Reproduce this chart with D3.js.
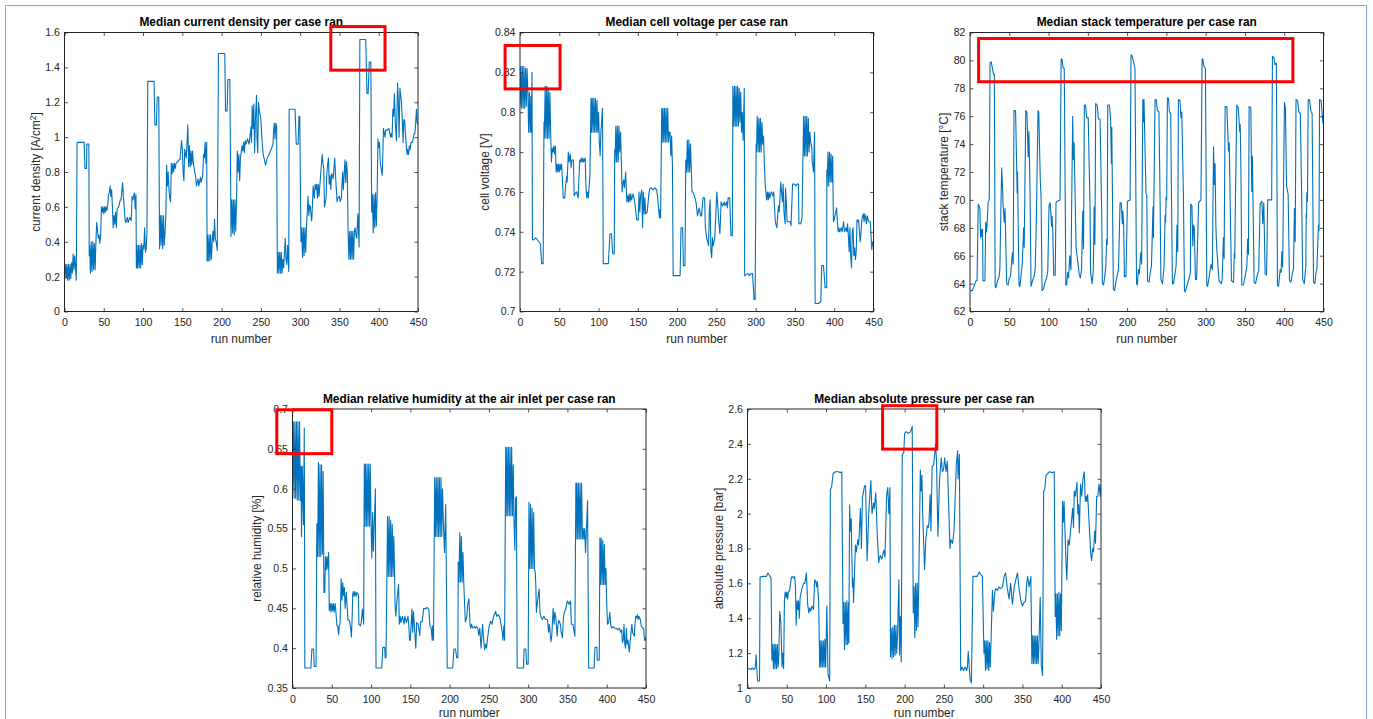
<!DOCTYPE html>
<html>
<head>
<meta charset="utf-8">
<script src="https://cdnjs.cloudflare.com/ajax/libs/d3/7.8.5/d3.min.js"></script>
<style>
  body { margin: 0; background: #fff; }
  svg { display: block; font-family: "Liberation Sans", Arial, Helvetica, sans-serif; }
</style>
</head>
<body>
<svg id="fig" width="1373" height="719"></svg>
<script>
// run number ticks shared by every panel
var runTicks = [0, 50, 100, 150, 200, 250, 300, 350, 400, 450];

// [run number, median value]
var currentDensity = [[0,0.2],[1,0.27],[2,0.19],[3,0.27],[4,0.18],[5,0.27],[6,0.18],[7,0.27],[8,0.19],[9,0.28],[10,0.22],[11,0.33],[12,0.24],[13,0.32],[14,0.25],[15,0.18],[16,0.97],[25,0.97],[26,0.82],[28,0.82],[28.5,0.96],[31,0.96],[31.5,0.32],[32,0.38],[33,0.22],[34,0.4],[35,0.23],[36,0.4],[37,0.24],[38,0.39],[39,0.24],[40,0.4],[41,0.51],[42,0.47],[43,0.42],[44,0.44],[45,0.39],[46,0.43],[47,0.6],[48,0.57],[49,0.6],[50,0.56],[51,0.6],[52,0.57],[53,0.6],[54,0.58],[55,0.61],[56,0.67],[57,0.68],[58,0.72],[59,0.66],[60,0.7],[61,0.6],[62,0.48],[63,0.55],[64,0.5],[65,0.57],[66,0.48],[67,0.59],[69,0.6],[71,0.64],[72,0.64],[74,0.74],[75,0.65],[76,0.6],[77,0.53],[78,0.51],[80,0.54],[81,0.51],[83,0.54],[85,0.52],[86,0.66],[87,0.64],[89,0.68],[90,0.59],[91,0.67],[91.5,0.25],[92,0.38],[93,0.25],[94,0.38],[95,0.25],[96,0.38],[97,0.25],[98,0.39],[99,0.27],[100,0.38],[101,0.36],[102,0.48],[103,0.34],[104,0.36],[105,0.46],[106,1.32],[114,1.32],[115,1.07],[117,1.07],[118,1.23],[120,1.23],[121,0.36],[122,0.55],[123,0.38],[124,0.55],[125,0.36],[126,0.55],[127,0.38],[128,0.45],[129,0.55],[130,0.84],[131,0.72],[132,0.8],[133,0.7],[134,0.65],[135,0.63],[136,0.85],[137,0.79],[138,0.85],[139,0.8],[140,0.85],[141,0.82],[142,0.85],[144,0.86],[146,0.87],[147,0.87],[149,0.98],[150,0.93],[151,0.8],[152,0.75],[153,0.93],[155,0.88],[157,1.07],[158,0.83],[159,0.95],[160,0.83],[161,0.92],[162,0.84],[163,0.92],[164,0.85],[167,0.77],[168,0.72],[170,0.76],[171,0.72],[173,0.77],[174,0.74],[176,0.78],[177,0.9],[178,0.88],[179,0.97],[180,0.85],[181,0.97],[181.5,0.29],[182,0.44],[183,0.29],[184,0.44],[185,0.29],[186,0.44],[187,0.3],[188,0.4],[189,0.46],[190,0.4],[191,0.53],[192,0.42],[193,0.4],[194.5,0.35],[196,1.48],[204,1.48],[205,1.15],[207,1.15],[208,1.33],[210.5,1.33],[212,0.43],[213,0.64],[214,0.45],[215,0.64],[216,0.44],[217,0.64],[218,0.46],[219,0.64],[220,0.92],[221,0.8],[222,0.9],[223,0.75],[224,0.88],[226,0.95],[227,0.92],[228,0.97],[229,0.91],[230,0.98],[231,0.96],[233,0.99],[235,0.96],[237.5,1.06],[238,0.97],[239,1.18],[240,1.05],[241,1.19],[242,0.91],[243,1.1],[244.5,1.24],[245,1.0],[246,0.91],[247,1.2],[248,1.15],[249,1.13],[250,1.1],[251.5,0.98],[253,0.9],[254.5,0.87],[256,0.84],[258,0.88],[260.5,0.9],[263,0.93],[265.5,0.96],[266,1.02],[267,1.08],[268,0.99],[269,1.08],[270,1.06],[271,0.22],[272,0.34],[273,0.22],[274,0.34],[275,0.22],[276,0.34],[277,0.22],[278,0.3],[279,0.25],[281,0.42],[282,0.3],[283,0.27],[284,0.38],[285.5,0.23],[286,1.16],[293.5,1.16],[295,0.96],[297.5,0.96],[298.5,1.12],[299.5,1.12],[301,0.4],[302,0.48],[303,0.31],[304,0.48],[305,0.32],[306,0.48],[307,0.34],[308,0.48],[310,0.66],[311,0.55],[312,0.61],[313,0.6],[314.5,0.52],[315,0.54],[316.5,0.72],[318,0.65],[319,0.73],[320,0.7],[321,0.73],[322,0.65],[323,0.73],[324,0.66],[326,0.78],[328,0.9],[329,0.85],[330,0.82],[331,0.6],[333,0.65],[334,0.8],[336,0.88],[337,0.73],[338,0.78],[339,0.7],[340,0.79],[341,0.78],[342,0.76],[344,0.88],[345,0.78],[347,0.63],[348,0.65],[350,0.66],[351,0.63],[352.5,0.65],[354,0.8],[355,0.7],[357,0.87],[358,0.74],[359,0.86],[360,0.8],[361,0.46],[362,0.3],[363,0.46],[364,0.3],[365,0.46],[366,0.3],[367,0.46],[368,0.3],[369,0.46],[370,0.48],[371,0.44],[372,0.42],[373.5,0.56],[375,0.37],[376,1.56],[383.5,1.56],[385,1.25],[386.5,1.25],[388,1.43],[390,1.43],[391,0.57],[392,0.67],[393,0.45],[394,0.67],[395,0.48],[396,0.68],[397,0.49],[398,0.67],[399,0.99],[400,0.94],[401,0.97],[402,0.85],[403,0.82],[404.5,0.78],[406,1.05],[408,1.0],[409,1.04],[411,1.04],[413,1.05],[415,1.0],[416,1.02],[417,1.0],[418,1.16],[419,1.12],[420,1.25],[421,1.1],[422.5,0.98],[424,1.31],[425,1.2],[426,1.0],[427,1.28],[428,1.24],[429,1.2],[430,1.1],[431,0.97],[432,1.1],[433,1.1],[434,1.02],[436,0.9],[437,0.93],[438,0.9],[439,0.95],[440,0.93],[441,0.97],[443,0.97],[445,1.02],[446,1.02],[447,1.08],[448,1.16],[449,1.08],[450,1.07]];

var cellVoltage = [[0,0.803],[1,0.823],[2,0.802],[3,0.823],[4,0.802],[5,0.823],[6,0.802],[7,0.822],[8,0.803],[9,0.822],[10,0.81],[11,0.79],[12,0.81],[13,0.79],[14,0.808],[14.5,0.79],[15.3,0.82],[15.8,0.736],[18,0.736],[20,0.737],[22,0.736],[24,0.735],[26,0.734],[27.5,0.724],[29.5,0.724],[30.5,0.795],[31,0.787],[32,0.813],[33,0.787],[34,0.813],[35,0.787],[36,0.812],[37,0.787],[38,0.81],[39,0.79],[40,0.775],[41,0.782],[42,0.78],[43,0.783],[44,0.779],[45,0.783],[46,0.77],[47,0.774],[48,0.77],[49,0.774],[50,0.77],[51,0.774],[52,0.771],[53,0.774],[55,0.757],[57,0.757],[58,0.763],[59.5,0.768],[60,0.765],[61.5,0.78],[62.5,0.775],[64,0.779],[65,0.772],[66,0.776],[68,0.776],[69,0.758],[70,0.759],[72,0.76],[74,0.757],[76,0.776],[77,0.775],[78,0.777],[79,0.775],[80,0.777],[81,0.775],[83,0.777],[84,0.762],[85,0.757],[86,0.76],[87,0.757],[89,0.768],[90.4,0.807],[91,0.79],[92,0.807],[93,0.79],[94,0.807],[95,0.79],[96,0.807],[97,0.79],[98,0.806],[99,0.79],[100,0.8],[101,0.785],[102,0.778],[103,0.79],[105,0.802],[106,0.724],[112.5,0.724],[114.5,0.739],[116.5,0.739],[118,0.729],[120,0.729],[120.5,0.781],[121,0.775],[122,0.793],[123,0.775],[124,0.793],[125,0.775],[126,0.793],[127,0.78],[128,0.79],[129,0.775],[130,0.76],[131,0.764],[132,0.766],[133,0.762],[134.5,0.77],[136,0.755],[137,0.758],[138,0.755],[139,0.759],[140,0.755],[141,0.759],[142,0.756],[144,0.759],[146,0.755],[148.5,0.746],[150.5,0.746],[151.5,0.76],[152.5,0.75],[153.5,0.758],[155,0.761],[156,0.742],[157,0.76],[158,0.749],[159,0.757],[160,0.749],[162,0.75],[164,0.759],[165.5,0.762],[167,0.762],[169,0.761],[172,0.762],[174,0.761],[175,0.758],[177.5,0.747],[178,0.751],[179,0.747],[180.4,0.802],[181,0.785],[182,0.802],[183,0.785],[184,0.802],[185,0.785],[186,0.802],[187,0.785],[188,0.802],[189,0.785],[190,0.79],[191,0.79],[192,0.778],[193,0.788],[194,0.774],[195,0.718],[200,0.718],[203.8,0.718],[205,0.742],[207,0.742],[208,0.723],[210,0.723],[211,0.776],[212,0.77],[213,0.786],[214,0.77],[215,0.786],[216,0.77],[217,0.784],[218,0.772],[219,0.76],[220,0.76],[222,0.758],[224,0.755],[226,0.748],[228,0.752],[230,0.748],[231,0.748],[233,0.757],[235,0.757],[236,0.742],[237.5,0.737],[239,0.735],[240,0.733],[241,0.75],[242,0.756],[243,0.73],[244,0.727],[245,0.737],[246,0.733],[248,0.737],[250.5,0.76],[252,0.752],[253,0.745],[254.5,0.739],[256,0.755],[258,0.753],[260,0.755],[261,0.753],[263,0.755],[264,0.752],[265,0.757],[267,0.757],[268.5,0.738],[270.3,0.738],[271,0.813],[272,0.793],[273,0.813],[274,0.793],[275,0.813],[276,0.793],[277,0.813],[278,0.793],[279,0.812],[280,0.795],[281,0.81],[282,0.79],[283,0.8],[284,0.786],[285.5,0.812],[286,0.718],[290,0.719],[292,0.718],[294,0.719],[296,0.719],[298,0.706],[299.3,0.706],[300.6,0.784],[301,0.78],[302,0.798],[303,0.78],[304,0.797],[305,0.78],[306,0.797],[307,0.78],[308,0.795],[309,0.784],[310,0.788],[311,0.775],[312,0.765],[313,0.76],[314,0.756],[315,0.76],[316,0.756],[317,0.76],[318,0.757],[320,0.76],[322,0.758],[323,0.76],[325,0.745],[327,0.742],[328,0.748],[329,0.753],[330,0.75],[332,0.765],[333,0.76],[334,0.755],[335,0.764],[336,0.75],[337.5,0.744],[338,0.762],[339,0.755],[340,0.745],[342,0.745],[344,0.745],[345,0.743],[347,0.764],[349,0.764],[351,0.763],[353,0.764],[354.5,0.764],[355,0.744],[357.5,0.744],[359,0.747],[361,0.798],[362,0.778],[363,0.798],[364,0.778],[365,0.798],[366,0.778],[367,0.797],[368,0.78],[369,0.79],[370,0.785],[371.5,0.782],[372,0.775],[373.6,0.77],[375,0.79],[375.7,0.704],[380,0.704],[383,0.705],[384,0.723],[386.3,0.723],[388.4,0.712],[390.4,0.712],[390.6,0.771],[391,0.763],[392,0.78],[393,0.763],[394,0.78],[395,0.765],[396,0.779],[397,0.765],[398,0.778],[399,0.745],[400,0.746],[401,0.748],[403,0.752],[404,0.745],[405,0.74],[406,0.742],[407,0.74],[409,0.742],[410,0.74],[412,0.745],[413,0.74],[415,0.742],[416,0.74],[417,0.744],[418,0.738],[419,0.73],[420,0.742],[421,0.728],[422,0.722],[423,0.74],[424,0.742],[425,0.728],[426,0.732],[427,0.726],[428,0.73],[429,0.746],[430,0.745],[431,0.746],[433,0.735],[434,0.739],[435,0.745],[436,0.748],[437,0.749],[438,0.745],[439,0.749],[440,0.747],[441,0.744],[442,0.748],[444,0.745],[446,0.745],[447.8,0.731],[448.5,0.735],[449,0.733],[450,0.735]];

var stackTemp = [[0,63.5],[3,63.5],[5,63.8],[7.5,64.2],[9,64.2],[10.5,69.7],[12.5,69.4],[13.5,67.3],[14.5,67.9],[15,67.4],[16,67.9],[16.5,64.2],[19,64.2],[20,68.4],[21,67.7],[22,68.5],[23,69.8],[24.5,70.0],[25.5,79.8],[27,79.9],[29,79.3],[30,79.0],[31,79.0],[32,63.8],[33,63.7],[35,64.2],[37,64.5],[38,65.0],[40.3,72.3],[41.6,70.7],[42,69.8],[43.5,68.4],[44.6,69.4],[46.7,64.0],[48.5,63.9],[50,64.4],[51.5,64.5],[54,66.2],[55,65.4],[56,76.4],[58,76.4],[59.5,72.1],[60,70.5],[60.5,72.0],[62.4,63.9],[63.5,63.8],[65.4,64.8],[66.5,65.4],[68.3,68.0],[69,66.6],[71,76.4],[72.5,76.3],[74,73.1],[75,74.9],[76.4,70.7],[77.7,63.8],[80,64.3],[81.5,64.5],[83,65.0],[84.5,68.7],[86.6,76.4],[87.5,76.3],[89.5,71.4],[90.5,70.2],[91.7,63.5],[93.5,63.6],[95.5,64.1],[97.5,64.4],[99,64.9],[100.6,69.6],[102,69.8],[104,68.1],[104.5,68.8],[105.5,67.6],[106.6,64.6],[108.5,64.6],[109.5,69.8],[111,69.9],[114.6,70.0],[116,80.1],[117,80.1],[118.4,79.5],[120,79.4],[122,63.9],[123,63.9],[124.4,64.8],[125.5,64.4],[127,66.0],[128.5,65.0],[130.7,76.0],[131.6,72.9],[132.5,74.1],[133.5,71.1],[135,66.6],[139,64.7],[140.5,64.4],[142,65.0],[143.5,69.2],[144.5,66.5],[145.6,76.8],[147,76.8],[148.6,75.9],[150.5,75.9],[152.8,69.5],[153.5,64.8],[155.5,64.0],[157,65.0],[158,69.5],[159,66.8],[160,76.9],[162,76.8],[163.4,75.8],[165.5,75.8],[167.7,69.0],[168.5,64.0],[170,63.9],[171.5,64.5],[172.8,65.2],[174,67.2],[174.7,66.8],[175.3,76.8],[177.5,76.8],[179,75.7],[180,72.6],[180.5,75.2],[182.5,63.6],[184,63.5],[186,64.2],[187.5,64.6],[189,65.0],[191,69.8],[192.5,69.8],[194,68.3],[194.5,69.2],[195.5,68.4],[196.6,64.5],[198.5,64.5],[200.4,69.9],[203.8,70.0],[205,80.4],[206.5,80.3],[209,79.7],[210,79.4],[212,64.0],[213,63.9],[214.4,65.0],[215.5,64.7],[217.4,66.2],[218.5,65.4],[220,77.2],[221,75.6],[221.5,77.2],[224,70.5],[225,70.3],[226,64.2],[228,64.1],[229,64.6],[231,65.3],[233,69.5],[233.5,67.3],[235.6,77.2],[237,77.2],[238.6,76.4],[240.5,76.3],[242,69.9],[243,64.3],[245,64.0],[246,64.6],[247,65.2],[248.4,68.9],[249,68.4],[249.6,70.2],[250.4,70.0],[251.3,77.3],[252.6,77.3],[253.9,76.3],[255.5,76.2],[256.5,70.1],[257.7,64.0],[259,64.0],[261,64.7],[262.4,65.3],[263.5,68.2],[264.5,66.3],[265.3,77.2],[267.4,77.1],[268.5,75.9],[269.6,76.3],[271.7,70.3],[273,63.5],[274,63.4],[276,63.8],[277.5,64.1],[279,64.4],[280.5,64.8],[281,69.7],[282.5,69.6],[283.6,66.7],[284.5,68.2],[285.5,68.0],[287,64.3],[288.5,64.3],[291,69.8],[294,70.0],[295.5,80.1],[296.5,80.1],[297.6,79.6],[299.7,79.4],[301.4,63.9],[302.5,63.8],[305,64.7],[307,65.4],[308.5,65.0],[310,73.8],[311,71.1],[312,72.6],[313,68.1],[314,66.6],[317,64.2],[320,64.0],[321,64.3],[322.6,67.3],[323.5,65.8],[324.8,76.7],[327,76.7],[329,73.5],[330,74.1],[332,67.2],[332.8,64.2],[335.5,64.1],[336.5,66.2],[337,65.8],[337.5,68.3],[339.6,76.8],[341.5,76.6],[343.4,74.9],[344,75.4],[345,71.6],[346,63.9],[348,63.9],[349.5,64.3],[352.4,65.2],[353.5,67.2],[354.5,66.1],[355.3,76.7],[357.5,76.6],[358.7,70.6],[359.5,73.1],[361.7,64.1],[363.5,64.0],[366,64.7],[367.5,64.9],[369.3,69.7],[371.5,69.9],[372.7,68.3],[374,69.8],[375.7,64.7],[377.5,64.6],[379,70.0],[384,70.0],[385,80.3],[387,80.2],[388,79.7],[390,79.8],[391.4,63.9],[392.8,63.8],[394.8,65.0],[396,64.8],[397,66.3],[398,65.2],[400.3,77.0],[401.5,76.6],[403,71.0],[405,70.4],[406.7,64.2],[408.5,64.1],[411,64.9],[411.8,65.1],[413,69.4],[414,67.0],[415,77.2],[417,77.1],[418.6,76.3],[420.5,76.2],[422.4,69.5],[423.5,64.3],[425.5,64.0],[426.5,64.6],[427.5,65.3],[428,69.0],[428.4,68.7],[428.8,70.5],[429.6,69.9],[430.5,77.2],[432,77.2],[433.9,76.4],[435.5,76.2],[436.5,69.9],[437.3,64.1],[439,64.0],[440.5,64.8],[441.5,65.0],[443.6,68.2],[444.3,67.8],[445,77.2],[447,77.1],[449.2,75.5],[450,76.1]];

var relHumidity = [[0,0.588],[1,0.684],[2,0.588],[3,0.684],[4,0.588],[5,0.684],[6,0.586],[7,0.684],[8,0.586],[9,0.684],[10,0.585],[11,0.628],[11.5,0.54],[12.5,0.628],[14,0.555],[15,0.676],[15.7,0.375],[20,0.375],[23.4,0.375],[24.7,0.399],[26.8,0.399],[27.6,0.377],[30,0.377],[31,0.556],[32,0.515],[33,0.633],[34,0.515],[35,0.63],[36,0.515],[37,0.63],[38,0.518],[39,0.622],[40,0.47],[41,0.47],[42,0.515],[43,0.498],[44,0.515],[45,0.5],[46,0.52],[46.8,0.447],[48,0.456],[49,0.445],[50,0.456],[51,0.447],[52,0.456],[53,0.445],[54.4,0.456],[56.6,0.428],[57.5,0.428],[58.7,0.417],[59.5,0.428],[60.5,0.43],[62,0.487],[63,0.46],[64,0.482],[65,0.466],[66,0.476],[67,0.45],[68.5,0.47],[70.6,0.435],[72.5,0.435],[74,0.425],[75,0.414],[76,0.44],[76.6,0.467],[77.5,0.471],[78.5,0.465],[79.5,0.471],[81,0.465],[82,0.47],[84,0.467],[84.5,0.43],[86.5,0.428],[87.5,0.432],[89,0.449],[90.6,0.43],[91.4,0.631],[92,0.553],[93,0.631],[94,0.553],[95,0.631],[96,0.553],[97,0.631],[98,0.553],[99,0.631],[100,0.555],[101,0.513],[102,0.57],[103,0.522],[105.5,0.6],[106.3,0.375],[110,0.375],[113.6,0.375],[115,0.401],[117.4,0.401],[118,0.388],[119,0.388],[121,0.565],[122,0.49],[123,0.565],[124,0.49],[125,0.56],[126,0.49],[127,0.555],[128,0.49],[129,0.54],[130,0.49],[130.6,0.455],[131.5,0.44],[133,0.46],[135,0.48],[136,0.43],[137,0.44],[138,0.432],[140,0.44],[142,0.43],[143,0.44],[145,0.432],[147,0.44],[148,0.43],[149,0.41],[150,0.41],[152,0.449],[153,0.42],[154,0.446],[155,0.43],[157,0.40],[158,0.432],[160,0.43],[162,0.416],[163,0.433],[165,0.433],[167,0.45],[169,0.449],[171,0.451],[173.5,0.449],[175,0.427],[176.5,0.426],[177.8,0.41],[178.5,0.428],[179.5,0.41],[181,0.614],[182,0.54],[183,0.614],[184,0.54],[185,0.614],[186,0.54],[187,0.614],[188,0.54],[189,0.614],[190,0.54],[191,0.6],[192,0.56],[193.5,0.52],[195,0.58],[197,0.375],[204,0.375],[205.4,0.399],[207.5,0.399],[209,0.388],[210.5,0.388],[211,0.508],[212,0.483],[213,0.545],[214,0.483],[215,0.54],[216,0.483],[217,0.52],[218,0.483],[219,0.457],[220,0.433],[221,0.436],[222,0.44],[223,0.455],[224.6,0.462],[226,0.43],[226.7,0.425],[228,0.43],[229,0.425],[231,0.427],[233,0.425],[234,0.427],[236,0.425],[237,0.416],[238.5,0.425],[240,0.4],[240.7,0.41],[242,0.43],[243,0.415],[244.6,0.398],[246,0.405],[247,0.4],[248,0.41],[250,0.425],[252,0.434],[254,0.43],[256,0.44],[258.6,0.446],[260,0.44],[262,0.442],[264,0.438],[267,0.42],[268,0.41],[269,0.428],[270,0.41],[271.4,0.652],[272,0.566],[273,0.652],[274,0.566],[275,0.652],[276,0.566],[277,0.652],[278,0.566],[279,0.652],[280,0.566],[281,0.63],[282,0.56],[283,0.523],[284,0.588],[285,0.59],[286,0.375],[290,0.375],[294,0.375],[294.8,0.399],[297,0.399],[298,0.38],[300,0.38],[301,0.583],[302,0.5],[303,0.58],[304,0.5],[305,0.575],[306,0.5],[307,0.57],[308,0.5],[309,0.495],[309.7,0.48],[310.5,0.445],[312,0.46],[314,0.474],[315,0.445],[316,0.44],[318,0.436],[320,0.44],[322,0.436],[324.6,0.436],[326,0.42],[327,0.43],[329,0.408],[330,0.415],[331.8,0.45],[333,0.43],[334,0.445],[335,0.44],[337,0.415],[338,0.43],[339,0.435],[341,0.43],[342,0.42],[343.7,0.413],[345,0.44],[346.5,0.446],[348,0.45],[350,0.459],[352,0.455],[354,0.459],[355,0.43],[357,0.43],[358.6,0.42],[359.5,0.415],[360.7,0.607],[361,0.537],[362,0.607],[363,0.537],[364,0.607],[365,0.537],[366,0.607],[367,0.537],[368,0.607],[369,0.537],[370,0.55],[371,0.537],[372,0.55],[373,0.52],[375.6,0.585],[377,0.375],[380,0.375],[384,0.375],[385,0.401],[387.5,0.401],[388,0.385],[390.5,0.385],[391.3,0.538],[392,0.48],[393,0.538],[394,0.48],[395,0.535],[396,0.48],[397,0.53],[398,0.48],[399,0.5],[400,0.455],[401,0.43],[402.4,0.432],[404,0.445],[405,0.43],[406,0.425],[408,0.427],[410,0.425],[412,0.425],[414,0.423],[416,0.425],[418,0.42],[419,0.423],[420,0.407],[421,0.41],[422,0.43],[423,0.405],[424,0.40],[425,0.425],[426,0.405],[427,0.41],[428.7,0.395],[430,0.41],[432,0.43],[433,0.42],[435,0.415],[436,0.43],[437,0.44],[438,0.438],[439,0.442],[440,0.436],[441,0.44],[443,0.435],[444,0.428],[445.7,0.425],[447,0.425],[448,0.41],[449,0.41],[450,0.414]];

var absPressure = [[0,1.11],[3,1.11],[4,1.105],[6,1.115],[8,1.105],[9.8,1.115],[11,1.19],[12,1.1],[12.8,1.04],[15.3,1.04],[16,1.636],[20,1.64],[24,1.64],[26,1.66],[28,1.645],[30,1.63],[31,1.16],[32,1.25],[33,1.11],[34,1.25],[35,1.11],[36,1.25],[37,1.11],[38,1.25],[39,1.12],[40,1.2],[41,1.44],[42.5,1.37],[44,1.12],[45,1.2],[46,1.11],[47,1.5],[48,1.55],[49,1.52],[50,1.55],[51,1.51],[52,1.55],[53.6,1.56],[55.7,1.63],[57,1.64],[59,1.63],[60,1.64],[61,1.59],[62,1.36],[63,1.5],[64,1.45],[65,1.5],[66,1.4],[67,1.52],[69.3,1.57],[71.5,1.6],[73,1.6],[75,1.66],[76.6,1.48],[78,1.43],[79,1.46],[80.5,1.44],[82,1.47],[84,1.45],[85.5,1.62],[87,1.61],[88,1.58],[89,1.61],[90.6,1.49],[91.9,1.12],[92.5,1.27],[93.5,1.12],[94.5,1.27],[95.5,1.12],[96.5,1.27],[97.5,1.12],[98.5,1.28],[99.5,1.12],[101,1.47],[102.5,1.08],[104.6,1.04],[105.5,2.14],[107,2.15],[109,2.23],[112,2.24],[116,2.24],[118,2.235],[120,2.24],[121.6,1.37],[122.5,1.49],[123.5,1.22],[124.5,1.49],[125.5,1.25],[126.5,1.5],[127.5,1.25],[128.5,1.49],[129,1.26],[130,2.05],[131,1.9],[132,1.97],[133.6,1.58],[134.2,1.63],[135,1.49],[137.4,1.82],[138.5,1.78],[140.4,1.85],[141.5,1.82],[143.8,2.03],[145,1.8],[146.3,2.09],[149,2.16],[150.3,2.16],[152.3,1.73],[154.5,2.02],[157,2.19],[158.5,2.0],[160.5,2.06],[161.5,2.03],[163.3,2.12],[165,1.9],[167,1.72],[169,1.76],[171,1.74],[173.5,1.79],[175,1.75],[177,2.1],[178.5,2.15],[180,2.0],[181.3,2.15],[182,1.18],[183,1.34],[184,1.17],[185,1.35],[186,1.18],[187,1.36],[188,1.19],[189,1.36],[190,1.2],[191,1.3],[192.7,1.62],[193.5,1.19],[194.5,1.41],[195.7,1.15],[197,2.34],[199,2.35],[200,2.46],[202,2.47],[205,2.46],[207.6,2.47],[209.7,2.5],[211,1.43],[212,1.58],[213,1.29],[214,1.6],[215,1.33],[216,1.6],[217,1.35],[218,1.6],[220,2.25],[221,2.13],[222,2.22],[223,2.0],[225.4,1.68],[227,1.85],[228.8,1.93],[230,1.92],[231,1.95],[232.5,2.11],[233.5,1.9],[235,2.27],[237,2.28],[239.4,2.4],[240.6,2.3],[242.4,1.87],[244.5,2.2],[246.7,2.32],[248,2.24],[249.5,2.25],[251,2.32],[252.7,2.24],[254.4,2.3],[257.8,1.8],[259,1.85],[261,1.83],[262.9,1.9],[265.8,2.28],[267.5,2.36],[268,2.2],[269.7,2.34],[271.4,1.1],[273,1.12],[275,1.1],[277,1.12],[279,1.1],[280,1.12],[281,1.21],[283.3,1.05],[285,1.03],[287,1.64],[290,1.64],[292.6,1.64],[294.8,1.665],[297,1.65],[299,1.64],[301,1.2],[302,1.27],[303,1.1],[304,1.27],[305,1.11],[306,1.27],[307,1.1],[308,1.26],[309,1.12],[310,1.27],[311.8,1.56],[313,1.44],[314.8,1.55],[316,1.57],[318,1.56],[320,1.58],[322,1.57],[324.6,1.58],[326.7,1.64],[328.5,1.66],[330.5,1.58],[333,1.51],[335,1.6],[337.3,1.48],[339.5,1.58],[341.5,1.62],[343.7,1.66],[345.7,1.57],[348,1.5],[350,1.47],[352,1.49],[354,1.5],[355.5,1.6],[356.5,1.64],[358.5,1.58],[360.7,1.64],[362,1.14],[363,1.3],[364,1.14],[365,1.3],[366,1.14],[367,1.3],[368,1.14],[369,1.3],[370,1.14],[371,1.25],[372.6,1.52],[374,1.13],[375.6,1.07],[377,2.13],[378.5,2.14],[380,2.22],[384,2.24],[388,2.235],[390.5,2.24],[391.7,1.41],[392.5,1.54],[393.5,1.28],[394.5,1.54],[395.5,1.3],[396.5,1.55],[397.5,1.3],[398.5,1.54],[399.5,1.33],[401,2.07],[402,1.95],[403,2.07],[405.4,1.72],[406.5,1.62],[408,1.85],[409.5,1.82],[411,1.89],[413.9,2.03],[415,1.92],[416,2.13],[417.5,2.1],[419.4,2.18],[420.5,2.0],[421.5,2.05],[422.4,1.89],[424,2.17],[425.5,2.1],[427,2.2],[428.7,2.24],[430,2.07],[431,2.1],[432,2.07],[433,2.11],[434.5,1.98],[437,1.77],[438,1.73],[439.5,1.8],[440.5,1.78],[442,1.9],[443,1.83],[444.5,2.1],[446,2.1],[447.5,2.17],[449,2.1],[450,2.17]];

// y tick labels for each panel
var densityTicks = [0, 0.2, 0.4, 0.6, 0.8, 1, 1.2, 1.4, 1.6];
var voltageTicks = [0.7, 0.72, 0.74, 0.76, 0.78, 0.8, 0.82, 0.84];
var tempTicks = [62, 64, 66, 68, 70, 72, 74, 76, 78, 80, 82];
var humidityTicks = [0.35, 0.4, 0.45, 0.5, 0.55, 0.6, 0.65, 0.7];
var pressureTicks = [1, 1.2, 1.4, 1.6, 1.8, 2, 2.2, 2.4, 2.6];

var titles = ["Median current density per case ran", "Median cell voltage per case ran",
  "Median stack temperature per case ran", "Median relative humidity at the air inlet per case ran",
  "Median absolute pressure per case ran"];

// highlighted boxes, in data units [run0, run1, y0, y1]
var highlights = [[339, 408, 1.384, 1.634], [-19, 51, 0.8117, 0.8335], [11, 411, 78.47, 81.57],
  [-20, 50, 0.644, 0.699], [172, 241, 2.37, 2.619]];

var svg = d3.select("#fig");
var ink = "#262626";
var blue = "#0072bd";

// figure frame
svg.append("path")
  .attr("d", "M5.5,719 V5.5 H1366.5 V719")
  .attr("fill", "none").attr("stroke", "#7f9fe3").attr("stroke-width", 1);

var panels = [
  { data: currentDensity, ticks: densityTicks, x: 64.5, y: 32.5, ylab: "current density [A/cm", sup: "2", ylabEnd: "]", ylabOff: 29, xlabOff: 31 },
  { data: cellVoltage, ticks: voltageTicks, x: 520, y: 32.5, ylab: "cell voltage [V]", ylabOff: 36, xlabOff: 31 },
  { data: stackTemp, ticks: tempTicks, x: 970, y: 32.5, ylab: "stack temperature [\u00b0C]", ylabOff: 27, xlabOff: 31 },
  { data: relHumidity, ticks: humidityTicks, x: 292.5, y: 409, ylab: "relative humidity [%]", ylabOff: 36, xlabOff: 28.5 },
  { data: absPressure, ticks: pressureTicks, x: 747.5, y: 409, ylab: "absolute pressure [bar]", ylabOff: 29, xlabOff: 28.5 }
];
var W = 353.5, H = 279;

panels.forEach(function (p, i) {
  var g = svg.append("g").attr("transform", "translate(" + p.x + "," + p.y + ")");
  var ticks = p.ticks;
  var x = d3.scaleLinear().domain([0, 450]).range([0, W]);
  var y = d3.scaleLinear().domain([ticks[0], ticks[ticks.length - 1]]).range([H, 0]);

  g.append("clipPath").attr("id", "clip" + i)
    .append("rect").attr("width", W).attr("height", H);

  var line = d3.line().x(function (d) { return x(d[0]); }).y(function (d) { return y(d[1]); });
  g.append("path")
    .datum(p.data)
    .attr("clip-path", "url(#clip" + i + ")")
    .attr("d", line)
    .attr("fill", "none")
    .attr("stroke", blue)
    .attr("stroke-width", 1.1)
    .attr("stroke-linejoin", "round");

  // axes, ticks pointing inwards
  var fmt = function (d) { return String(d); };
  g.append("g").attr("transform", "translate(0," + H + ")")
    .call(d3.axisBottom(x).tickValues(runTicks).tickFormat(fmt).tickSizeInner(-3.5).tickSizeOuter(0).tickPadding(7));
  g.append("g")
    .call(d3.axisLeft(y).tickValues(ticks).tickFormat(fmt).tickSizeInner(-3.5).tickSizeOuter(0).tickPadding(4.5));
  g.append("g")
    .call(d3.axisTop(x).tickValues(runTicks).tickFormat("").tickSizeInner(-3.5).tickSizeOuter(0));
  g.append("g").attr("transform", "translate(" + W + ",0)")
    .call(d3.axisRight(y).tickValues(ticks).tickFormat("").tickSizeInner(-3.5).tickSizeOuter(0));

  g.selectAll(".domain").remove();
  g.selectAll(".tick line").attr("stroke", ink).attr("stroke-width", 0.8);
  g.selectAll(".tick text").attr("fill", ink).style("font-size", "10.6px").style("font-family", "inherit");

  g.append("rect").attr("width", W).attr("height", H)
    .attr("fill", "none").attr("stroke", ink).attr("stroke-width", 1);

  g.append("text")
    .attr("x", W / 2).attr("y", -6.5)
    .attr("text-anchor", "middle")
    .attr("fill", "#000")
    .style("font-size", "11.9px").style("font-weight", "bold")
    .text(titles[i]);

  g.append("text")
    .attr("x", W / 2).attr("y", H + p.xlabOff)
    .attr("text-anchor", "middle")
    .attr("fill", ink)
    .style("font-size", "11.9px")
    .text("run number");

  var yl = g.append("text")
    .attr("transform", "translate(" + (-p.ylabOff + 4.5) + "," + (H / 2) + ") rotate(-90)")
    .attr("text-anchor", "middle")
    .attr("fill", ink)
    .style("font-size", "11.9px")
    .text(p.ylab);
  if (p.sup) {
    yl.append("tspan").attr("dy", -4.5).style("font-size", "8.5px").text(p.sup);
    yl.append("tspan").attr("dy", 4.5).text(p.ylabEnd);
  }

  var h = highlights[i];
  g.append("rect")
    .attr("x", x(h[0])).attr("y", y(h[3]))
    .attr("width", x(h[1]) - x(h[0])).attr("height", y(h[2]) - y(h[3]))
    .attr("fill", "none").attr("stroke", "#ff0000").attr("stroke-width", 3);
});
</script>
</body>
</html>
